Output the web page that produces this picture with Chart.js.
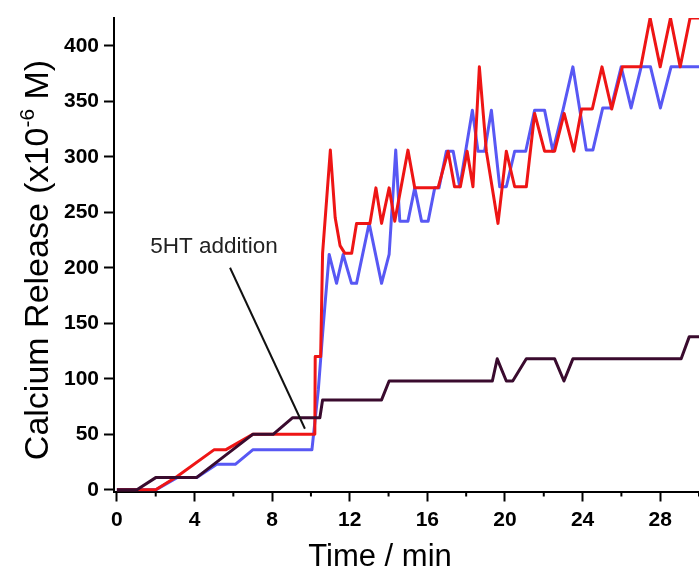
<!DOCTYPE html>
<html>
<head>
<meta charset="utf-8">
<script src="https://cdn.jsdelivr.net/npm/chart.js@4.4.0/dist/chart.umd.min.js"></script>
<style>
html, body { margin: 0; padding: 0; background: #fff; }
#wrap { width: 699px; height: 571px; }
</style>
</head>
<body>
<div id="wrap"><canvas id="myChart"></canvas></div>
<script>
// Values (time in min, calcium in 1e-6 M)
var redTime = [0, 2, 3.1, 5, 5.6, 7, 10.2, 10.22, 10.5, 10.6, 11.0, 11.25, 11.5, 11.75, 12.1, 12.35, 13.04, 13.35, 13.64, 14.03, 14.32, 15.0, 15.35, 16.55, 17.07, 17.4, 17.7, 18.05, 18.35, 18.68, 19.04, 19.64, 20.07, 20.5, 21.1, 21.53, 22.04, 22.56, 23.05, 23.55, 23.95, 24.5, 25.0, 25.5, 26.05, 27.0, 27.48, 28.0, 28.53, 29.03, 29.54, 30];
var redCa   = [0, 0, 12, 36, 36, 50, 50, 120, 120, 213, 306, 245, 220, 213, 213, 240, 240, 272, 240, 272, 242, 306, 272, 272, 305, 273, 273, 305, 273, 381, 305, 240, 305, 273, 273, 339, 305, 305, 339, 305, 343, 343, 381, 343, 381, 381, 425, 381, 425, 381, 425, 425];

var blueTime = [0, 2, 3.1, 4.1, 5.15, 6.1, 7.0, 10.05, 10.38, 10.63, 10.94, 11.32, 11.66, 12.09, 12.35, 13.0, 13.64, 14.03, 14.37, 14.58, 15.0, 15.35, 15.7, 16.04, 16.38, 16.6, 16.98, 17.33, 17.67, 18.32, 18.61, 18.95, 19.3, 19.73, 20.07, 20.5, 21.07, 21.53, 22.04, 22.47, 23.0, 23.5, 24.19, 24.53, 25.04, 25.47, 25.99, 26.5, 27.02, 27.5, 28.01, 28.56, 30];
var blueCa   = [0, 0, 11, 11, 23, 23, 36, 36, 90, 147, 212, 186, 212, 186, 186, 240, 186, 212, 306, 242, 242, 272, 242, 242, 272, 272, 305, 305, 273, 342, 305, 305, 342, 273, 273, 305, 305, 342, 342, 305, 343, 381, 306, 306, 344, 344, 381, 344, 381, 381, 344, 381, 381];

var purpleTime = [0, 1.03, 2.0, 4.1, 7.0, 8.05, 9.06, 10.46, 10.6, 13.64, 14.03, 19.35, 19.6, 20.07, 20.4, 21.1, 22.56, 23.04, 23.5, 29.08, 29.5, 30];
var purpleCa   = [0, 0, 11, 11, 50, 50, 65, 65, 81, 81, 98, 98, 118, 98, 98, 118, 118, 98, 118, 118, 138, 138];

var xTicks = [0, 4, 8, 12, 16, 20, 24, 28];
var xMinorTicks = [2, 6, 10, 14, 18, 22, 26, 30];
var yTicks = [0, 50, 100, 150, 200, 250, 300, 350, 400];

// "5HT addition" label and its pointer, in data units
var noteText = '5HT addition';
var noteAt = [5.0, 219];
var notePointer = [[5.83, 200], [9.69, 55]];

function toPoints(xs, ys) {
    return xs.map((x, i) => ({ x: x, y: ys[i] }));
}

// Extra drawing: minor ticks, annotation, axis titles
var extras = {
    id: 'extras',
    afterDraw: function (chart) {
        var ctx = chart.ctx;
        var xs = chart.scales.x, ys = chart.scales.y;
        var bottom = chart.chartArea.bottom;
        ctx.save();

        // minor ticks on the time axis
        ctx.strokeStyle = '#000';
        ctx.lineWidth = 2;
        xMinorTicks.forEach(function (v) {
            var px = xs.getPixelForValue(v);
            ctx.beginPath();
            ctx.moveTo(px, bottom);
            ctx.lineTo(px, bottom + 5);
            ctx.stroke();
        });

        // annotation
        ctx.lineWidth = 2;
        ctx.strokeStyle = '#111';
        ctx.beginPath();
        ctx.moveTo(xs.getPixelForValue(notePointer[0][0]), ys.getPixelForValue(notePointer[0][1]));
        ctx.lineTo(xs.getPixelForValue(notePointer[1][0]), ys.getPixelForValue(notePointer[1][1]));
        ctx.stroke();
        ctx.fillStyle = '#222';
        ctx.font = '22.5px "Liberation Sans", Arial, sans-serif';
        ctx.textAlign = 'center';
        ctx.textBaseline = 'middle';
        ctx.fillText(noteText, xs.getPixelForValue(noteAt[0]), ys.getPixelForValue(noteAt[1]));

        // x title
        ctx.fillStyle = '#000';
        ctx.font = '31px "Liberation Sans", Arial, sans-serif';
        ctx.textBaseline = 'alphabetic';
        ctx.fillText('Time / min', 380, 566);

        // y title with superscript
        ctx.translate(48, 260);
        ctx.rotate(-Math.PI / 2);
        var big = '34px "Liberation Sans", Arial, sans-serif';
        var small = '21px "Liberation Sans", Arial, sans-serif';
        var p1 = 'Calcium Release (x10', p2 = '-6', p3 = ' M)';
        ctx.font = big; var w1 = ctx.measureText(p1).width, w3 = ctx.measureText(p3).width;
        ctx.font = small; var w2 = ctx.measureText(p2).width;
        var x0 = -(w1 + w2 + w3) / 2;
        ctx.textAlign = 'left';
        ctx.font = big; ctx.fillText(p1, x0, 0);
        ctx.font = small; ctx.fillText(p2, x0 + w1, -14);
        ctx.font = big; ctx.fillText(p3, x0 + w1 + w2, 0);
        ctx.restore();
    }
};

var ctx = document.getElementById('myChart').getContext('2d');
var CaChart = new Chart(ctx, {
    type: 'line',
    data: {
        datasets: [{
            label: 'purple',
            data: toPoints(purpleTime, purpleCa),
            borderColor: '#3a0b2e',
            borderWidth: 3,
            order: 0
        }, {
            label: 'red',
            data: toPoints(redTime, redCa),
            borderColor: '#ee1515',
            borderWidth: 3,
            order: 1
        }, {
            label: 'blue',
            data: toPoints(blueTime, blueCa),
            borderColor: '#5858f4',
            borderWidth: 3,
            order: 2
        }]
    },
    options: {
        responsive: true,
        maintainAspectRatio: false,
        animation: false,
        layout: { padding: { top: 18, right: 0, left: 0, bottom: 0 } },
        elements: {
            point: { radius: 0 },
            line: { tension: 0, fill: false, borderJoinStyle: 'round' }
        },
        plugins: {
            legend: { display: false },
            tooltip: { enabled: false }
        },
        scales: {
            x: {
                type: 'linear',
                min: -0.15,
                max: 30,
                border: { color: '#000', width: 2 },
                grid: { drawOnChartArea: false, tickLength: 10, tickColor: '#000', tickWidth: 2 },
                ticks: {
                    color: '#000',
                    padding: 6,
                    maxRotation: 0,
                    font: { family: '"Liberation Sans", Arial, sans-serif', size: 21, weight: 'bold' }
                },
                afterBuildTicks: function (s) { s.ticks = xTicks.map(v => ({ value: v })); },
                afterFit: function (s) { s.height = 79.5; }
            },
            y: {
                min: -1.5,
                max: 425,
                border: { color: '#000', width: 2 },
                grid: { drawOnChartArea: false, tickLength: 10, tickColor: '#000', tickWidth: 2 },
                ticks: {
                    color: '#000',
                    padding: 5,
                    font: { family: '"Liberation Sans", Arial, sans-serif', size: 21, weight: 'bold' }
                },
                afterBuildTicks: function (s) { s.ticks = yTicks.map(v => ({ value: v })); },
                afterFit: function (s) { s.width = 114; }
            }
        }
    },
    plugins: [extras]
});
</script>
</body>
</html>
